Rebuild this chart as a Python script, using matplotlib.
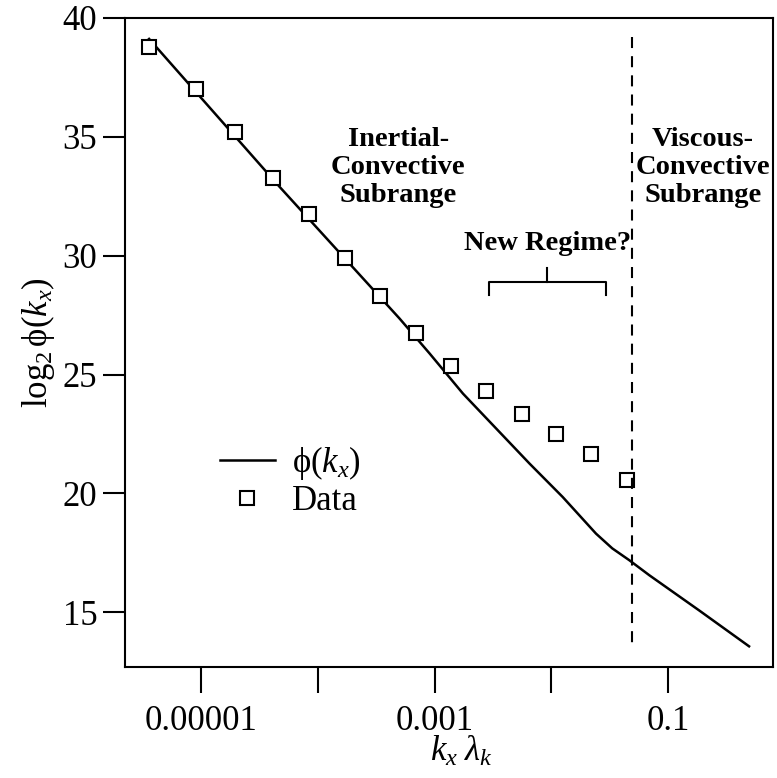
import matplotlib
matplotlib.use("Agg")
import matplotlib.pyplot as plt
import numpy as np

plt.rcParams['font.family'] = ['Liberation Serif', 'DejaVu Serif']
plt.rcParams['mathtext.fontset'] = 'custom'
plt.rcParams['mathtext.rm'] = 'Liberation Serif'
plt.rcParams['mathtext.it'] = 'Liberation Serif:italic'
plt.rcParams['mathtext.bf'] = 'Liberation Serif:bold'

# Data (squares)
data_x = [3.60e-6, 9.06e-6, 1.95e-5, 4.12e-5, 8.38e-5, 1.70e-4, 3.39e-4,
          6.89e-4, 1.37e-3, 2.73e-3, 5.55e-3, 1.10e-2, 2.20e-2, 4.47e-2]
data_y = [38.8, 37.0, 35.2, 33.25, 31.75, 29.9, 28.3, 26.75, 25.35, 24.3,
          23.35, 22.5, 21.65, 20.55]

# Model curve phi(k_x)
line_x = [3.60e-6, 4.73e-5, 5.01e-4, 9.06e-4, 1.75e-3, 3.37e-3, 6.49e-3,
          1.25e-2, 2.41e-2, 3.32e-2, 4.65e-2, 6.89e-2, 0.184, 0.492]
line_y = [39.12, 32.89, 27.36, 25.89, 24.20, 22.73, 21.26,
          19.85, 18.31, 17.69, 17.19, 16.56, 15.08, 13.57]

boundary_x = 0.049
bracket_x = [2.95e-3, 9.25e-3, 2.95e-2]

fig = plt.figure(figsize=(7.77, 7.78), dpi=100)
ax = fig.add_axes([125/777, 1-667/778, 648/777, 649/778])

ax.plot(line_x, line_y, color='black', lw=1.8, label=r'$\mathrm{\phi}(k_x)$',
        solid_joinstyle='round')
ax.plot(data_x, data_y, linestyle='none', marker='s', markersize=9.5,
        markerfacecolor='white', markeredgecolor='black', markeredgewidth=1.5,
        label='Data')

ax.plot([boundary_x, boundary_x], [39.2, 13.6], color='black', lw=1.5,
        linestyle=(0, (5.3, 3.9)))

# bracket
bx0, bxc, bx1 = bracket_x
ax.plot([bx0, bx0, bx1, bx1], [28.34, 28.89, 28.89, 28.34], color='black', lw=1.5)
ax.plot([bxc, bxc], [28.89, 29.5], color='black', lw=1.5)
ax.text(bxc, 30.24, 'New Regime?', ha='center', va='baseline',
        fontsize=20.5, fontweight='bold')

ax.text(10**-3.31, 33.7, 'Inertial-\nConvective\nSubrange', ha='center',
        va='center', fontsize=20.5, fontweight='bold', linespacing=1.17)
ax.text(0.199, 33.7, 'Viscous-\nConvective\nSubrange', ha='center',
        va='center', fontsize=20.5, fontweight='bold', linespacing=1.17)

ax.set_xscale('log')
ax.set_xlim(10**-5.65, 10**-0.103)
ax.set_ylim(12.7, 40)

xticks = [1e-5, 1e-4, 1e-3, 1e-2, 1e-1]
xticklabels = ['0.00001', '', '0.001', '', '0.1']
ax.set_xticks(xticks)
ax.set_xticklabels(xticklabels)
ax.xaxis.set_minor_locator(matplotlib.ticker.NullLocator())
yticks = [15, 20, 25, 30, 35, 40]
ax.set_yticks(yticks)

ax.tick_params(axis='x', length=19, width=1.5, pad=8, labelsize=25)
ax.tick_params(axis='y', length=16, width=1.5, pad=4, labelsize=25)
for s in ax.spines.values():
    s.set_linewidth(1.5)

ax.set_xlabel(r'$k_x\;\lambda_k$', fontsize=25)
ax.xaxis.set_label_coords(0.518, -0.105)
ax.set_ylabel(r'$\mathrm{log}_2\,\mathrm{\phi}(k_x)$', fontsize=25)

ax.legend(loc='center left', bbox_to_anchor=(0.1466, 0.2866), frameon=False,
          fontsize=25, handlelength=1.57, handletextpad=0.5, labelspacing=0.1,
          borderpad=0, borderaxespad=0)

fig.savefig('out.png', dpi=100)
